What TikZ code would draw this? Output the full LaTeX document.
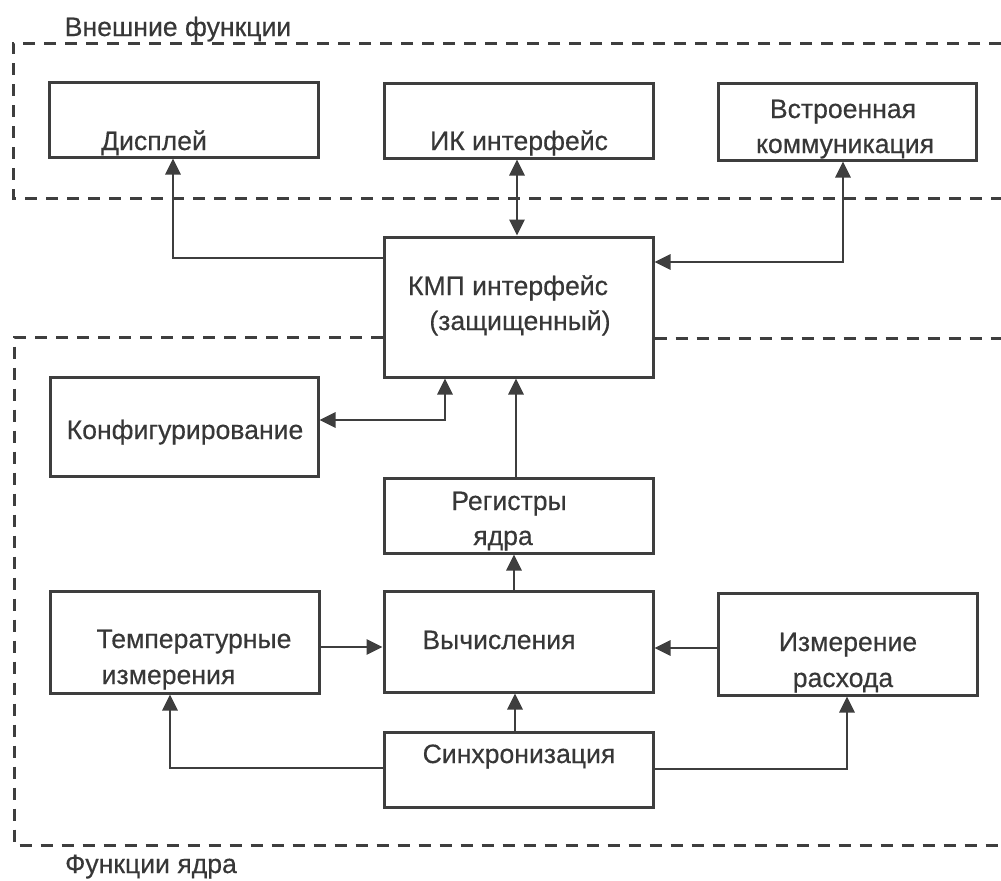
\documentclass[tikz,border=0pt]{standalone}
\usepackage{fontspec}
\setmainfont{Liberation Sans}[FakeBold=0.4]
\usetikzlibrary{arrows.meta}
\definecolor{ink}{RGB}{62,62,62}
\definecolor{txt}{RGB}{55,55,55}
\begin{document}
\begin{tikzpicture}[x=0.5pt,y=-0.5pt,
  box/.style={draw=ink, line width=1.5pt, inner sep=0pt, minimum width=134.5pt},
  lbl/.style={anchor=base, inner sep=0pt, text=txt, font=\fontsize{13.3pt}{15pt}\selectfont},
  conn/.style={draw=ink, line width=1.4pt},
  arr/.style={conn, -{Triangle[length=8pt,width=7.5pt]}},
  darr/.style={conn, {Triangle[length=8pt,width=7.5pt]}-{Triangle[length=8pt,width=7.5pt]}},
  region/.style={draw=ink, line width=1.5pt, dash pattern=on 6pt off 4.5pt}]
\useasboundingbox (0,0) rectangle (1001,880);

% regions
\draw[region] (1001,43) -- (13,43) -- (13,198) -- (1001,198);
\node[lbl] (extlbl) at (178,36) {Внешние функции};

% boxes
\node[box, minimum height=37.5pt] (disp) at (183.5,119.5) {};
\node[box, minimum height=37.5pt] (ik) at (518.5,120.5) {};
\node[box, minimum width=129pt, minimum height=38.5pt] (vstr) at (847,121.5) {};
\node[box, minimum height=70pt] (kmp) at (518.5,307) {};
\node[box, minimum width=134pt, minimum height=49.5pt] (konf) at (184,426.5) {};
\node[box, minimum height=37.5pt] (reg) at (518.5,515.5) {};
\node[box, minimum height=51pt] (temp) at (184.5,642) {};
\node[box, minimum height=50.5pt] (vych) at (518.5,641.5) {};
\node[box, minimum width=129.5pt, minimum height=51pt] (izm) at (847.5,644) {};
\node[box, minimum height=37.5pt] (sync) at (518.5,769.5) {};

% lower region
\draw[region] (kmp.west |- 0,337) -- (14,337) -- (14,845) -- (1001,845);
\draw[region] (kmp.east |- 0,338) -- (1001,338);
\node[lbl] (corelbl) at (151,873) {Функции ядра};

% texts
\node[lbl] (tdisp) at (154,150) {Дисплей};
\node[lbl] (tik) at (519,150) {ИК интерфейс};
\node[lbl] (tvstr1) at (843,118) {Встроенная};
\node[lbl] (tvstr2) at (845,153) {коммуникация};
\node[lbl] (tkmp1) at (508,295) {КМП интерфейс};
\node[lbl] (tkmp2) at (520,330) {(защищенный)};
\node[lbl] (tkonf) at (185,439) {Конфигурирование};
\node[lbl] (treg1) at (509,510) {Регистры};
\node[lbl] (treg2) at (503,545) {ядра};
\node[lbl] (ttemp1) at (194,648) {Температурные};
\node[lbl] (ttemp2) at (168.5,684) {измерения};
\node[lbl] (tvych) at (499,649) {Вычисления};
\node[lbl] (tizm1) at (848,651) {Измерение};
\node[lbl] (tizm2) at (843,687) {расхода};
\node[lbl] (tsync) at (519,763) {Синхронизация};

% connectors
\draw[arr] (kmp.west |- 0,258) -| (173,0 |- disp.south);
\draw[darr] (517,0 |- ik.south) -- (517,0 |- kmp.north);
\draw[darr] (kmp.east |- 0,262) -| (843,0 |- vstr.south);
\draw[darr] (konf.east |- 0,420) -| (445,0 |- kmp.south);
\draw[arr] (516,0 |- reg.north) -- (516,0 |- kmp.south);
\draw[arr] (514,0 |- vych.north) -- (514,0 |- reg.south);
\draw[arr] (temp.east |- 0,647) -- (vych.west |- 0,647);
\draw[arr] (izm.west |- 0,648) -- (vych.east |- 0,648);
\draw[arr] (515,0 |- sync.north) -- (515,0 |- vych.south);
\draw[arr] (sync.west |- 0,768) -| (170,0 |- temp.south);
\draw[arr] (sync.east |- 0,769) -| (847,0 |- izm.south);
\end{tikzpicture}
\end{document}
